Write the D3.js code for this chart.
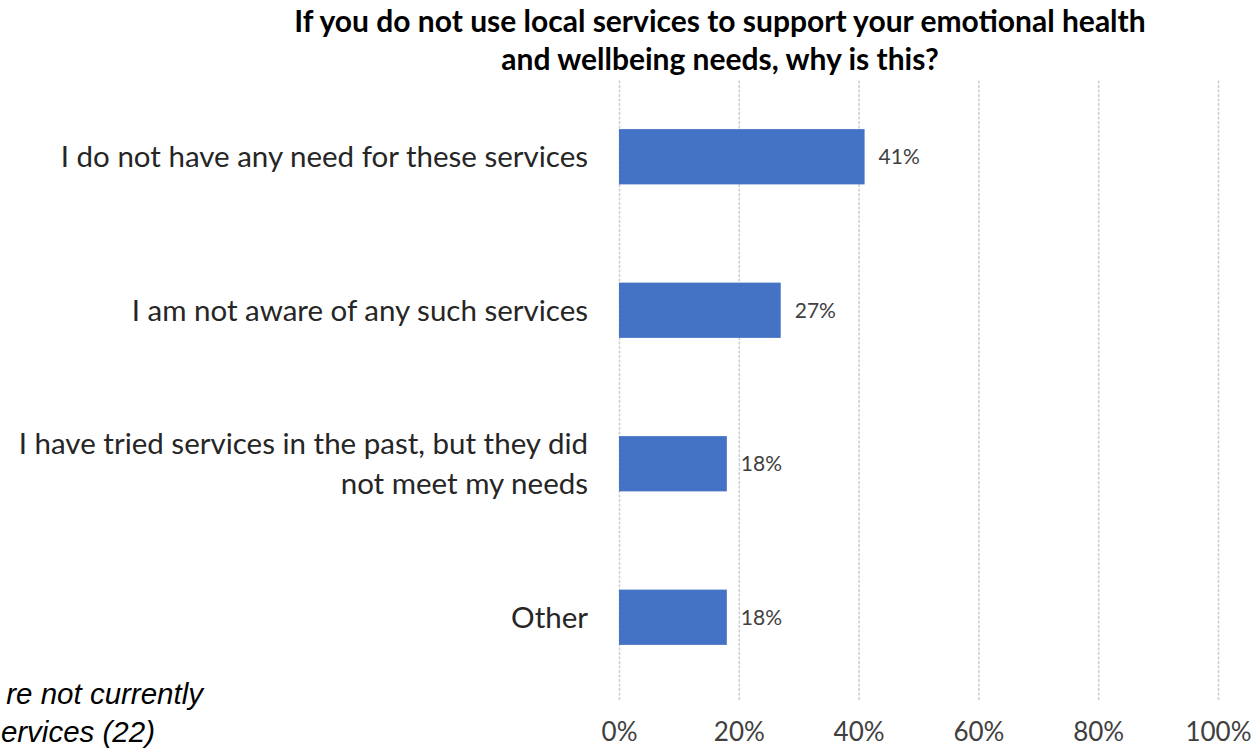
<!DOCTYPE html>
<html>
<head>
<meta charset="utf-8">
<script src="https://cdn.jsdelivr.net/npm/d3@7/dist/d3.min.js"></script>
<style>
  html, body { margin: 0; padding: 0; background: #fff; }
  svg { display: block; }
</style>
</head>
<body>
<svg id="chart" width="1257" height="748"></svg>
<script>
// Reasons for not using local emotional health services
const categories = [
  "I do not have any need for these services",
  "I am not aware of any such services",
  "I have tried services in the past, but they did not meet my needs",
  "Other"
];
// Wrapped label lines for each category
const categoryLines = [
  ["I do not have any need for these services"],
  ["I am not aware of any such services"],
  ["I have tried services in the past, but they did", "not meet my needs"],
  ["Other"]
];
const values = [0.41, 0.27, 0.18, 0.18];
const tickValues = [0, 0.2, 0.4, 0.6, 0.8, 1.0];
const titleLines = [
  "If you do not use local services to support your emotional health",
  "and wellbeing needs, why is this?"
];
const noteLines = [
  "re not currently",
  "ervices (22)"
];

const svg = d3.select("#chart");
const font = "Lato, 'Noto Sans', sans-serif";

const x = d3.scaleLinear().domain([0, 1]).range([619, 1218]);
const y = d3.scaleBand().domain(categories).range([80, 694]).paddingInner(0.64).paddingOuter(0.32);

// Vertical gridlines
const grid = svg.append("g").attr("transform", "translate(0,700)")
  .call(d3.axisBottom(x).tickValues(tickValues).tickSize(-620).tickFormat(""));
grid.select(".domain").remove();
grid.selectAll(".tick line")
  .attr("stroke", "#d0d0d0")
  .attr("stroke-width", 1.6)
  .attr("stroke-dasharray", "3,1.5");

// X axis tick labels
const xAxis = svg.append("g").attr("transform", "translate(0,720)")
  .call(d3.axisBottom(x).tickValues(tickValues).tickSize(0).tickFormat(d3.format(".0%")));
xAxis.select(".domain").remove();
xAxis.selectAll("text")
  .attr("font-family", font)
  .attr("font-size", 26)
  .attr("fill", "#404040");

// Bars
svg.append("g").selectAll("rect")
  .data(values)
  .join("rect")
  .attr("x", x(0))
  .attr("y", (d, i) => y(categories[i]))
  .attr("width", d => x(d) - x(0))
  .attr("height", y.bandwidth())
  .attr("fill", "#4472c4");

// Value labels
svg.append("g").selectAll("text")
  .data(values)
  .join("text")
  .attr("x", d => x(d) + 14)
  .attr("y", (d, i) => y(categories[i]) + y.bandwidth() / 2)
  .attr("dy", "0.35em")
  .attr("font-family", font)
  .attr("font-size", 21)
  .attr("fill", "#404040")
  .text(d => d3.format(".0%")(d));

// Category labels
const cat = svg.append("g").selectAll("text")
  .data(categoryLines)
  .join("text")
  .attr("text-anchor", "end")
  .attr("font-family", font)
  .attr("font-size", 29.5)
  .attr("fill", "#262626");
cat.each(function(lines, i) {
  const cy = y(categories[i]) + y.bandwidth() / 2;
  const lh = 40;
  const top = cy - (lines.length - 1) * lh / 2;
  d3.select(this).selectAll("tspan")
    .data(lines)
    .join("tspan")
    .attr("x", 588)
    .attr("y", (d, j) => top + j * lh)
    .attr("dy", "0.35em")
    .text(d => d);
});

// Title
svg.append("text")
  .attr("text-anchor", "middle")
  .attr("font-family", font)
  .attr("font-weight", "bold")
  .attr("font-size", 30)
  .attr("fill", "#000")
  .selectAll("tspan")
  .data(titleLines)
  .join("tspan")
  .attr("x", 720)
  .attr("y", (d, i) => 32 + i * 38)
  .text(d => d);

// Base note
svg.append("text")
  .attr("text-anchor", "end")
  .attr("font-family", "'Liberation Sans', Arial, sans-serif")
  .attr("font-style", "italic")
  .attr("font-size", 29.5)
  .attr("fill", "#000")
  .selectAll("tspan")
  .data(noteLines)
  .join("tspan")
  .attr("x", (d, i) => i === 0 ? 203 : 155)
  .attr("y", (d, i) => 704 + i * 38)
  .text(d => d);
</script>
</body>
</html>
